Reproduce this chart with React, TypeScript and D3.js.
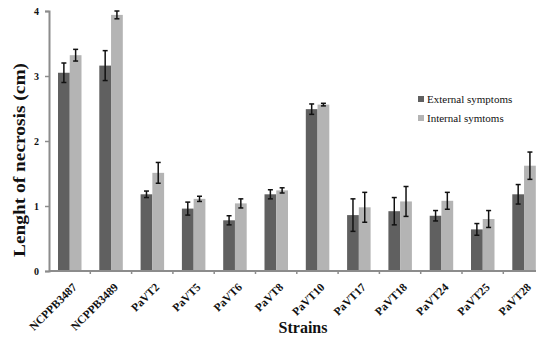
import React, { useEffect, useRef } from "react";
import * as d3 from "d3";

const strains = [
  "NCPPB3487", "NCPPB3489", "PaVT2", "PaVT5", "PaVT6", "PaVT8",
  "PaVT10", "PaVT17", "PaVT18", "PaVT24", "PaVT25", "PaVT28",
];
const external = [3.05, 3.16, 1.18, 0.96, 0.78, 1.18, 2.49, 0.86, 0.92, 0.85, 0.64, 1.18];
const externalErr = [0.15, 0.23, 0.05, 0.1, 0.07, 0.07, 0.08, 0.25, 0.21, 0.08, 0.09, 0.15];
const internal = [3.32, 3.94, 1.51, 1.11, 1.04, 1.24, 2.56, 0.98, 1.07, 1.08, 0.8, 1.62];
const internalErr = [0.09, 0.06, 0.16, 0.04, 0.07, 0.04, 0.02, 0.23, 0.23, 0.13, 0.13, 0.21];
const yTicks = [0, 1, 2, 3, 4];
const seriesNames = ["External symptoms", "Internal symtoms"];

const colors = ["#606060", "#b4b4b4"];
const font = "'Liberation Serif', 'Times New Roman', serif";

export default function App() {
  const ref = useRef<SVGSVGElement>(null);

  useEffect(() => {
    const svg = d3.select(ref.current);
    svg.selectAll("*").remove();

    const left = 49;
    const x = d3.scaleBand().domain(strains).range([left, left + 12 * 41.3]);
    const y = d3.scaleLinear().domain([0, 4]).range([271, 11]);
    const inner = d3.scaleBand().domain(["0", "1"]).range([9, 32.5]);

    const series = [
      { vals: external, errs: externalErr },
      { vals: internal, errs: internalErr },
    ];

    const g = svg.append("g");

    series.forEach((s, si) => {
      g.append("g")
        .selectAll("rect")
        .data(strains)
        .join("rect")
        .attr("x", (d) => x(d)! + inner(String(si))!)
        .attr("y", (d, i) => y(s.vals[i]))
        .attr("width", inner.bandwidth())
        .attr("height", (d, i) => y(0) - y(s.vals[i]))
        .attr("fill", colors[si]);
    });

    // error bars
    series.forEach((s, si) => {
      const eg = g.append("g").attr("stroke", "#111").attr("stroke-width", 1.5);
      strains.forEach((d, i) => {
        const cx = x(d)! + inner(String(si))! + inner.bandwidth() / 2;
        const top = y(s.vals[i] + s.errs[i]);
        const bot = y(s.vals[i] - s.errs[i]);
        eg.append("line").attr("x1", cx).attr("x2", cx).attr("y1", top).attr("y2", bot);
        eg.append("line").attr("x1", cx - 2.5).attr("x2", cx + 2.5).attr("y1", top).attr("y2", top);
        eg.append("line").attr("x1", cx - 2.5).attr("x2", cx + 2.5).attr("y1", bot).attr("y2", bot);
      });
    });

    // y axis
    const ya = svg.append("g")
      .attr("transform", `translate(${left},0)`)
      .call(d3.axisLeft(y).tickValues(yTicks).tickSize(4).tickPadding(6).tickFormat(d3.format("d")));
    ya.select(".domain").attr("stroke", "#8c8c8c").attr("stroke-width", 2);
    ya.selectAll(".tick line").attr("stroke", "#8c8c8c").attr("stroke-width", 1.5);
    ya.selectAll(".tick text")
      .attr("font-family", font)
      .attr("font-weight", "bold")
      .attr("font-size", 10)
      .attr("fill", "#111");

    // x axis
    const xa = svg.append("g").attr("transform", `translate(0,${y(0)})`);
    xa.append("line")
      .attr("x1", left).attr("x2", 536)
      .attr("stroke", "#8c8c8c").attr("stroke-width", 2);
    xa.selectAll("line.tk")
      .data(strains.slice(1))
      .join("line")
      .attr("class", "tk")
      .attr("x1", (d) => x(d)!).attr("x2", (d) => x(d)!)
      .attr("y1", 0).attr("y2", 3)
      .attr("stroke", "#8c8c8c").attr("stroke-width", 1.5);
    xa.selectAll("text")
      .data(strains)
      .join("text")
      .attr("transform", (d) => `translate(${x(d)! + x.bandwidth() / 2 + 5},14) rotate(-45)`)
      .attr("text-anchor", "end")
      .attr("dy", "0.35em")
      .attr("font-family", font)
      .attr("font-weight", "bold")
      .attr("font-size", 11.5)
      .attr("fill", "#111")
      .text((d) => d);

    // axis titles
    svg.append("text")
      .attr("transform", "translate(25,160) rotate(-90)")
      .attr("x", -97)
      .attr("textLength", 194)
      .attr("lengthAdjust", "spacingAndGlyphs")
      .attr("font-family", font)
      .attr("font-weight", "bold")
      .attr("font-size", 16)
      .attr("fill", "#111")
      .text("Lenght of necrosis (cm)");
    svg.append("text")
      .attr("x", 303)
      .attr("y", 333)
      .attr("text-anchor", "middle")
      .attr("font-family", font)
      .attr("font-weight", "bold")
      .attr("font-size", 16)
      .attr("fill", "#111")
      .text("Strains");

    // legend
    const lg = svg.append("g").attr("transform", "translate(418,99)");
    seriesNames.forEach((n, i) => {
      lg.append("rect").attr("x", 0).attr("y", i * 19 - 3).attr("width", 6).attr("height", 6).attr("fill", colors[i]);
      lg.append("text")
        .attr("x", 9)
        .attr("y", i * 19)
        .attr("dy", "0.35em")
        .attr("font-family", font)
        .attr("font-size", 11)
        .attr("fill", "#111")
        .text(n);
    });
  }, []);

  return (
    <svg
      ref={ref}
      width={536}
      height={337}
      style={{ position: "absolute", left: 0, top: 0, background: "#fff" }}
    />
  );
}
